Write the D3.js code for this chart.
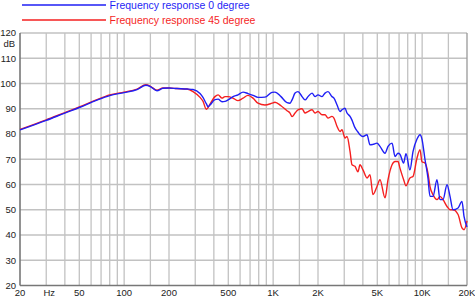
<!DOCTYPE html>
<html>
<head>
<meta charset="utf-8">
<script src="https://cdn.jsdelivr.net/npm/d3@7"></script>
<style>
  body { margin: 0; background: #fff; }
  svg { display: block; font-family: 'Liberation Sans', Arial, sans-serif; }
</style>
</head>
<body>
<svg></svg>
<script>
// data

var freqs = [20, 30, 40, 50, 65, 80, 100, 122, 140, 150, 166, 182, 200, 226, 264, 290,
  323, 338, 356, 366, 377, 407, 427, 454, 475, 498, 538, 581, 628, 678, 733, 791, 881,
  982, 1028, 1129, 1239, 1298, 1339, 1403, 1469, 1563, 1637, 1714, 1824, 1910, 2000,
  2128, 2229, 2334, 2483, 2559, 2685, 2812, 2898, 3035, 3131, 3281, 3381, 3541, 3708,
  3827, 4008, 4265, 4467, 4677, 4977, 5213, 5636, 5903, 6281, 6577, 6887, 7096, 7506,
  7790, 8282, 8683, 9237, 9675, 9971, 10445, 10938, 11288, 11823, 12579, 13183, 13806,
  14690, 15385, 16111, 17418, 18500, 19100, 20000]

var resp0 = [81.6, 85.4, 88.3, 90.5, 93.3, 95.2, 96.4, 97.6, 99.3, 98.8, 97.1, 98.1, 98.2, 98.0, 97.8, 97.6,
  96.0, 94.5, 92.0, 90.8, 91.5, 93.6, 93.8, 92.8, 92.9, 93.5, 94.8, 95.5, 96.6, 96.0, 95.3, 94.5, 94.6,
  96.5, 96.6, 94.8, 92.4, 92.2, 93.5, 96.2, 96.8, 94.8, 93.5, 94.8, 96.2, 94.8, 95.5,
  94.8, 96.2, 96.8, 94.8, 94.2, 91.5, 88.9, 89.6, 90.2, 88.3, 87.0, 85.5, 82.5, 80.8,
  79.7, 79.0, 79.7, 75.7, 75.9, 76.4, 75.1, 72.4, 75.1, 76.4, 71.1, 72.4, 72.0, 68.5,
  72.2, 65.8, 73.0, 78.0, 79.7, 78.0, 70.0, 62.6, 55.3, 55.3, 61.9, 54.0, 54.0,
  59.9, 55.3, 50.0, 50.7, 53.3, 47.4, 43.2]

var resp45 = [81.8, 85.6, 88.5, 90.7, 93.5, 95.5, 96.6, 97.8, 99.5, 98.9, 97.3, 98.2, 98.2, 98.0, 97.8, 96.8,
  94.5, 93.0, 89.8, 90.5, 91.8, 94.8, 95.5, 94.2, 94.8, 94.8, 94.2, 93.2, 94.2, 95.3, 94.2, 92.2, 91.5,
  92.2, 92.6, 91.2, 89.2, 88.3, 86.9, 88.3, 89.6, 90.0, 88.3, 88.9, 89.6, 88.3, 88.9,
  87.6, 87.6, 86.3, 87.0, 86.3, 83.0, 81.0, 81.7, 78.4, 79.0, 73.1, 67.8, 67.2, 65.0,
  67.8, 65.8, 62.6, 63.9, 56.0, 59.2, 61.9, 54.7, 61.9, 67.8, 69.1, 69.1, 66.5, 62.0,
  59.5, 62.6, 63.2, 70.5, 73.8, 69.0, 68.5, 64.5, 59.2, 56.0, 54.0, 55.3, 54.0,
  51.3, 50.0, 50.0, 48.1, 42.8, 42.1, 45.6]

var gridFreqs = [30, 40, 50, 60, 70, 80, 90, 100, 150, 200, 300, 400, 500, 600, 700, 800, 900,
  1000, 1500, 2000, 3000, 4000, 5000, 6000, 7000, 8000, 9000, 10000, 15000]
var xTickVals = [20, 30, 50, 100, 200, 500, 1000, 2000, 5000, 10000, 20000]
var xTickText = ['20', 'Hz', '50', '100', '200', '500', '1K', '2K', '5K', '10K', '20K']
var yTicks = [20, 30, 40, 50, 60, 70, 80, 90, 100, 110, 120]

var seriesNames = ['Frequency response 0 degree', 'Frequency response 45 degree']
var seriesColors = ['#1f1ff5', '#f51f1f']

// -----------------

var w = 475
var h = 297

var svg = d3.select('svg')
    .attr('width', w)
    .attr('height', h)

var x = d3.scaleLog()
    .domain([20, 20000])
    .range([20, 467])

var y = d3.scaleLinear()
    .domain([20, 120])
    .range([285.5, 33])

// grid
svg.append('g').selectAll('line')
  .data(gridFreqs)
  .enter().append('line')
    .attr('x1', function (d) { return x(d) })
    .attr('x2', function (d) { return x(d) })
    .attr('y1', y(20))
    .attr('y2', y(120))
    .attr('stroke', '#c2c2c2')
    .attr('stroke-width', 1.3)

svg.append('g').selectAll('line')
  .data(yTicks.slice(1))
  .enter().append('line')
    .attr('x1', x(20))
    .attr('x2', x(20000))
    .attr('y1', function (d) { return y(d) })
    .attr('y2', function (d) { return y(d) })
    .attr('stroke', '#c2c2c2')
    .attr('stroke-width', 1.3)

// frame
svg.append('line')
  .attr('x1', x(20000)).attr('x2', x(20000))
  .attr('y1', y(20)).attr('y2', y(120))
  .attr('stroke', '#999').attr('stroke-width', 1.3)

svg.append('line')
  .attr('x1', x(20)).attr('x2', x(20))
  .attr('y1', y(20)).attr('y2', y(120))
  .attr('stroke', '#777').attr('stroke-width', 1.6)

svg.append('line')
  .attr('x1', x(20)).attr('x2', x(20000))
  .attr('y1', y(20)).attr('y2', y(20))
  .attr('stroke', '#777').attr('stroke-width', 1.6)

// y labels
svg.append('g').selectAll('text')
  .data(yTicks)
  .enter().append('text')
    .attr('x', 16)
    .attr('y', function (d) { return y(d) })
    .attr('dy', '0.35em')
    .attr('text-anchor', 'end')
    .style('font-size', '9.5px')
    .style('fill', '#222')
    .text(function (d) { return d })

svg.append('text')
  .attr('x', 15)
  .attr('y', 44)
  .attr('dy', '0.35em')
  .attr('text-anchor', 'end')
  .style('font-size', '9.5px')
  .style('fill', '#222')
  .text('dB')

// x labels
svg.append('g').selectAll('text')
  .data(xTickVals)
  .enter().append('text')
    .attr('x', function (d, i) { return x(d) + (i === 1 ? 3 : 0) })
    .attr('y', 296)
    .attr('text-anchor', 'middle')
    .style('font-size', '9.5px')
    .style('fill', '#222')
    .text(function (d, i) { return xTickText[i] })

// curves
var line = d3.line()
    .x(function (d) { return x(d[0]) })
    .y(function (d) { return y(d[1]) })
    .curve(d3.curveMonotoneX)

var series = [resp0, resp45]

series.slice().reverse().forEach(function (vals, k) {
  var i = series.length - 1 - k
  var pts = freqs.map(function (f, j) { return [f, vals[j]] })
  svg.append('path')
    .attr('d', line(pts))
    .attr('fill', 'none')
    .attr('stroke', seriesColors[i])
    .attr('stroke-width', 1.4)
})

// legend
var leg = svg.append('g')
seriesNames.forEach(function (name, i) {
  var ly = 5 + i * 15
  leg.append('line')
    .attr('x1', 22).attr('x2', 106)
    .attr('y1', ly).attr('y2', ly)
    .attr('stroke', seriesColors[i])
    .attr('stroke-width', 1.4)
  leg.append('text')
    .attr('x', 109.5)
    .attr('y', ly)
    .attr('dy', '0.36em')
    .style('font-size', '10.5px')
    .style('fill', seriesColors[i])
    .text(name)
})
</script>
</body>
</html>
